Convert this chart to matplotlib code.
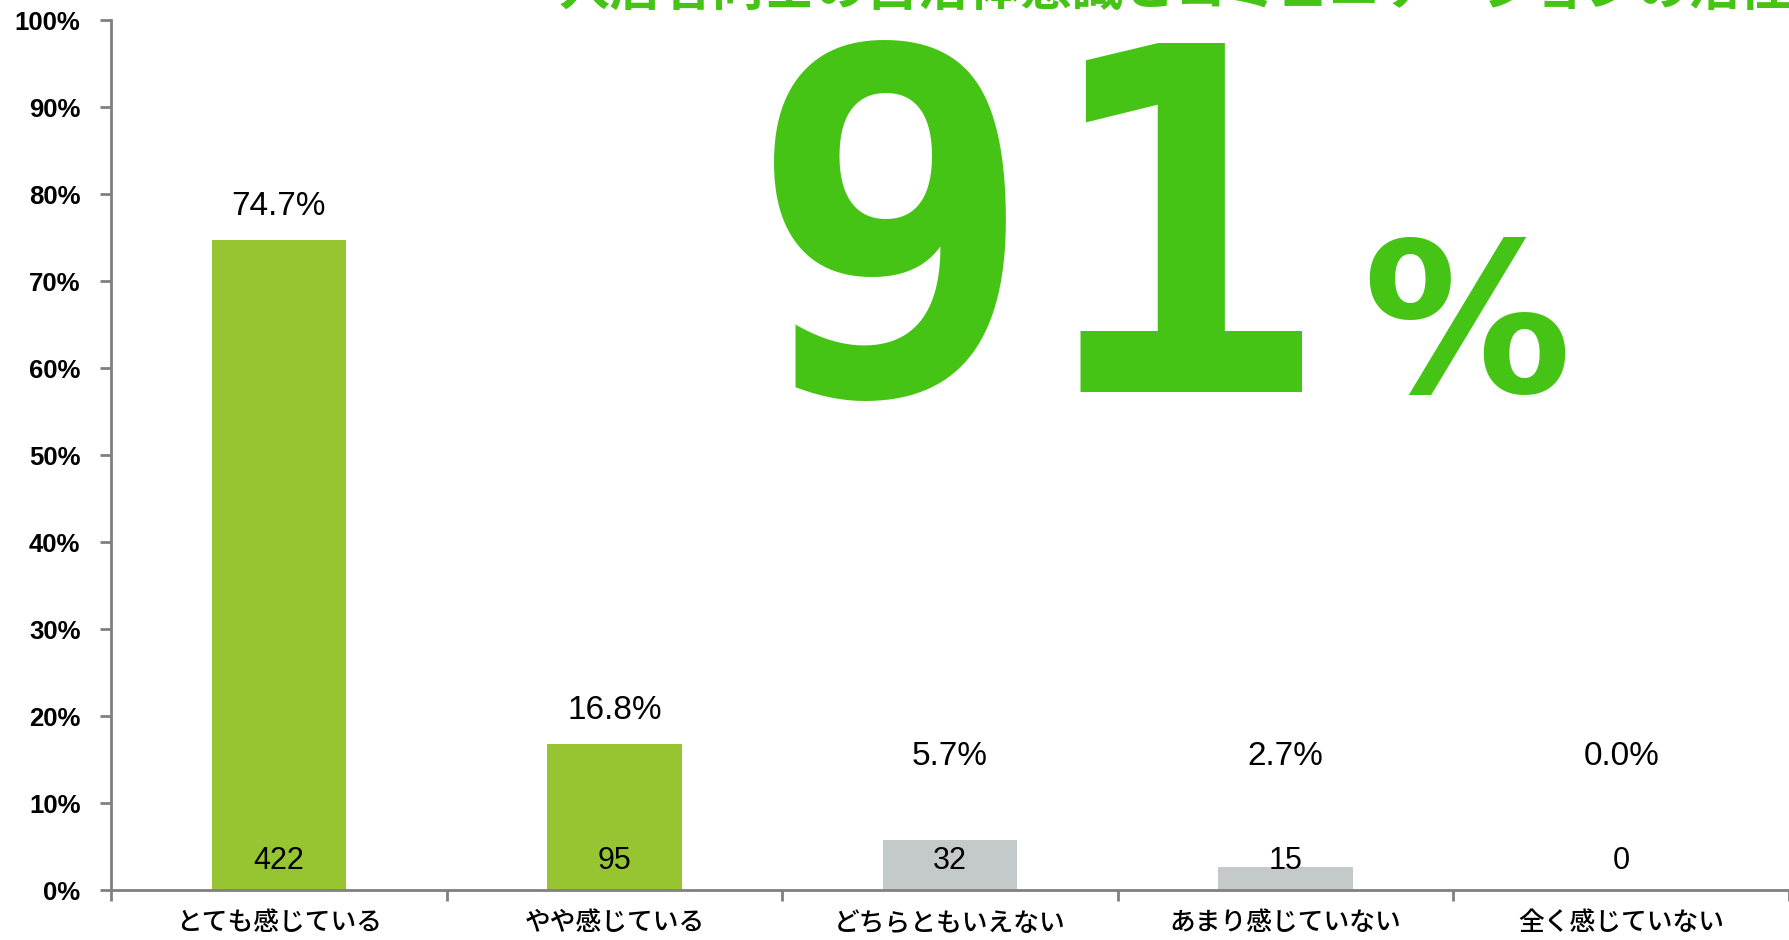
import matplotlib
matplotlib.use("Agg")
import matplotlib.pyplot as plt
import numpy as np

# データ
categories = ["とても感じている", "やや感じている", "どちらともいえない", "あまり感じていない", "全く感じていない"]
percents = [74.7, 16.8, 5.7, 2.7, 0.0]
counts = [422, 95, 32, 15, 0]
bar_colors = ["#97C431", "#97C431", "#C4C9C9", "#C4C9C9", "#C4C9C9"]
yticks = np.arange(0, 101, 10)
headline = "入居者同士の自治体意識とコミュニケーションの活性化を実感"
big_number = "91"

W, H = 1789, 940
fig = plt.figure(figsize=(W / 100, H / 100), dpi=100)
ax = fig.add_axes([111 / W, 1 - 890 / H, 1 - 111 / W, (890 - 20.5) / H])

x = np.arange(len(categories))
ax.bar(x, percents, width=0.4, color=bar_colors, zorder=2)

ax.set_xlim(-0.5, len(categories) - 0.5)
ax.set_ylim(0, 100)
ax.set_yticks(yticks)
ax.set_yticklabels([f"{v}%" for v in yticks], fontsize=18.5, fontweight="bold",
                   family=["Liberation Sans", "DejaVu Sans"])
ax.set_xticks(x)
ax.set_xticklabels(categories, fontsize=18.5, fontweight="medium",
                   family=["Noto Sans CJK JP", "DejaVu Sans"])
ax.set_xticks(np.arange(-0.5, len(categories)), minor=True)
ax.tick_params(axis="x", which="major", length=0, pad=14)
ax.tick_params(axis="x", which="minor", length=8, width=2, color="#808080")
ax.tick_params(axis="y", length=8, width=2, color="#808080", pad=14)

for s in ["top", "right"]:
    ax.spines[s].set_visible(False)
for s in ["left", "bottom"]:
    ax.spines[s].set_color("#808080")
    ax.spines[s].set_linewidth(2)

# 割合ラベルと件数
for xi, p, c in zip(x, percents, counts):
    ax.text(xi, max(p + 3.9, 15.3), f"{p:.1f}%", ha="center", va="center",
            fontsize=24, family=["Liberation Sans", "DejaVu Sans"], zorder=3)
    ax.text(xi, 3.3, str(c), ha="center", va="center", fontsize=22,
            family=["Liberation Sans Narrow", "Liberation Sans", "DejaVu Sans"], zorder=3)

green = "#46C416"
fig.text(559 / W, 1 - 16 / H, headline, ha="left", va="bottom", fontsize=37,
         fontweight="bold", color=green, family=["Noto Sans CJK JP", "DejaVu Sans"])
fig.text(748 / W, 1 - 392 / H, big_number, ha="left", va="baseline", fontsize=345,
         fontweight="bold", color=green, family=["DejaVu Sans Mono"])
fig.text(1362 / W, 1 - 392 / H, "%", ha="left", va="baseline", fontsize=150,
         fontweight="bold", color=green, family=["DejaVu Sans"])

fig.savefig("out.png", dpi=100)
